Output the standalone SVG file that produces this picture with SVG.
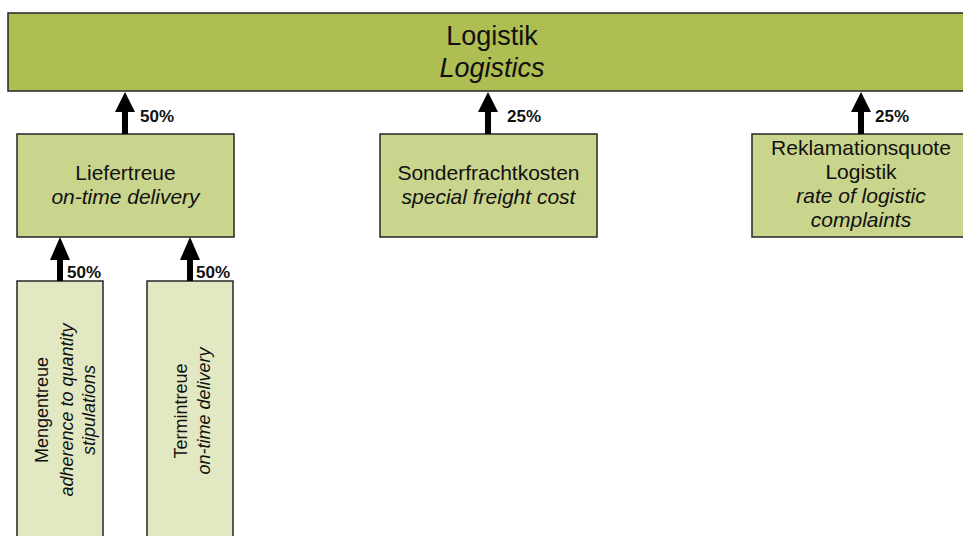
<svg xmlns="http://www.w3.org/2000/svg" width="963" height="536" viewBox="0 0 963 536">
<style>
.box{stroke:#262626;stroke-width:1.5}
.top{fill:#AFBE53}
.mid{fill:#C9D48C}
.low{fill:#E2E8C1}
text{font-family:"Liberation Sans",Arial,sans-serif;fill:#111;text-anchor:middle}
.t1{font-size:27px}
.t2{font-size:21px}
.t3{font-size:18px}
.i{font-style:italic}
.pct{font-size:17px;font-weight:bold;text-anchor:start}
.arr{fill:#000}
</style>
<defs>
<path id="arrowUp" d="M0,0 L10,20 L3,20 L3,42 L-3,42 L-3,20 L-10,20 Z"/>
<path id="arrowUpS" d="M0,0 L10,23 L3,23 L3,44 L-3,44 L-3,23 L-10,23 Z"/>
</defs>
<g id="logistik">
<rect class="box top" x="8" y="13" width="980" height="78"/>
<text class="t1" x="492" y="45">Logistik</text>
<text class="t1 i" x="492" y="77">Logistics</text>
</g>
<g id="liefertreue">
<rect class="box mid" x="17" y="134" width="217" height="103"/>
<text class="t2" x="125.5" y="180">Liefertreue</text>
<text class="t2 i" x="125.5" y="204">on-time delivery</text>
</g>
<g id="sonderfrachtkosten">
<rect class="box mid" x="380" y="134" width="217" height="103"/>
<text class="t2" x="488.5" y="180">Sonderfrachtkosten</text>
<text class="t2 i" x="488.5" y="204">special freight cost</text>
</g>
<g id="reklamationsquote">
<rect class="box mid" x="752" y="134" width="217" height="103"/>
<text class="t2" x="861" y="155">Reklamationsquote</text>
<text class="t2" x="861" y="179">Logistik</text>
<text class="t2 i" x="861" y="203">rate of logistic</text>
<text class="t2 i" x="861" y="227">complaints</text>
</g>
<g id="mengentreue">
<rect class="box low" x="17" y="281" width="86" height="270"/>
<g transform="translate(0,410) rotate(-90)">
<text class="t3" x="0" y="48">Mengentreue</text>
<text class="t3 i" x="0" y="73">adherence to quantity</text>
<text class="t3 i" x="0" y="95">stipulations</text>
</g>
</g>
<g id="termintreue">
<rect class="box low" x="147" y="281" width="86" height="270"/>
<g transform="translate(0,411) rotate(-90)">
<text class="t3" x="0" y="187">Termintreue</text>
<text class="t3 i" x="0" y="210">on-time delivery</text>
</g>
</g>
<g id="connectors">
<use href="#arrowUp" class="arr" x="125" y="92"/>
<use href="#arrowUp" class="arr" x="488" y="92"/>
<use href="#arrowUp" class="arr" x="861" y="92"/>
<use href="#arrowUpS" class="arr" x="60" y="237"/>
<use href="#arrowUpS" class="arr" x="190" y="237"/>
<text class="pct" x="140" y="122">50%</text>
<text class="pct" x="507" y="122">25%</text>
<text class="pct" x="875" y="122">25%</text>
<text class="pct" x="67" y="278">50%</text>
<text class="pct" x="196" y="278">50%</text>
</g>
</svg>
